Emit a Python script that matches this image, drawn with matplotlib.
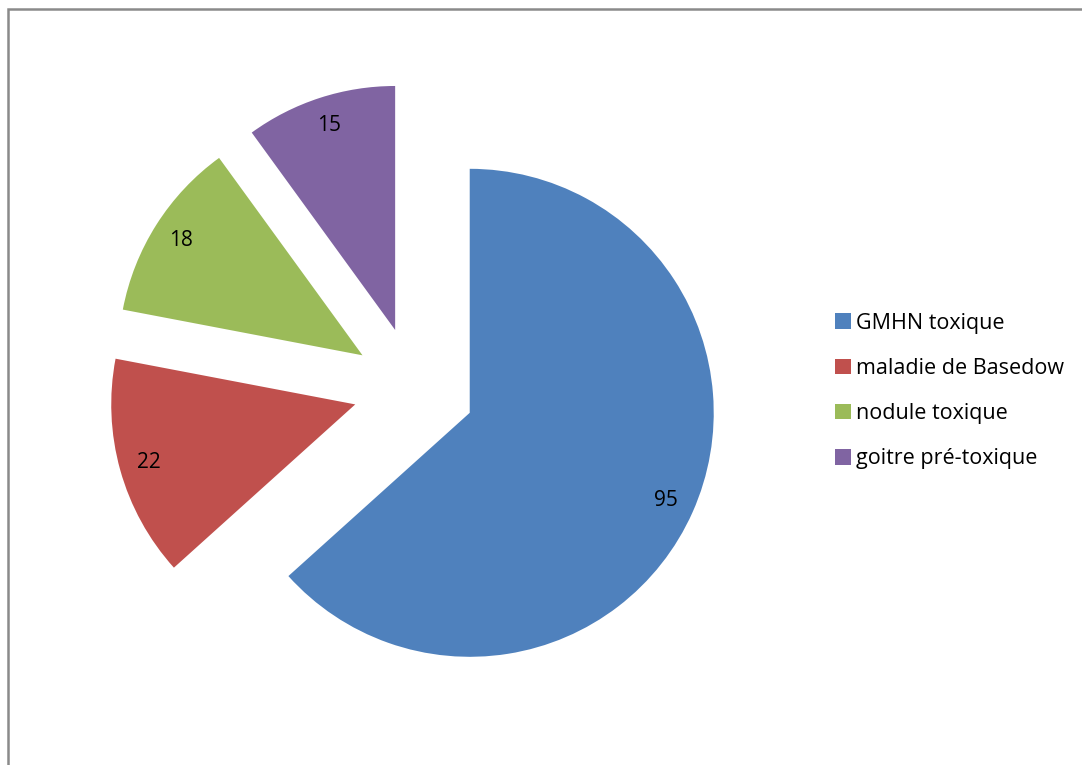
import matplotlib
matplotlib.use("Agg")
import matplotlib.pyplot as plt
from matplotlib.patches import Patch, Rectangle

plt.rcParams['font.family'] = ['Open Sans', 'DejaVu Sans']

labels = ['GMHN toxique', 'maladie de Basedow', 'nodule toxique', 'goitre pré-toxique']
values = [95, 22, 18, 15]
colors = ['#4F81BD', '#C0504D', '#9BBB59', '#8064A2']

W, H = 1082, 765
R = 244
fig = plt.figure(figsize=(W / 100, H / 100), dpi=100)
ax = fig.add_axes([0, 0, 1, 1])

# explode is in data units here (the axes is laid out in pixels)
wedges, texts, autotexts = ax.pie(
    values,
    colors=colors,
    startangle=90,
    counterclock=False,
    explode=[0.25 * R] * len(values),
    radius=R,
    center=(414, H - 388),
    autopct=lambda p: '%d' % round(p * sum(values) / 100),
    pctdistance=0.88,
    textprops=dict(fontsize=15, color='black'),
    wedgeprops=dict(linewidth=0),
)
ax.set_xlim(0, W)
ax.set_ylim(0, H)
ax.set_aspect('equal')
ax.axis('off')

# thin gray chart border (right and bottom edges fall outside the image)
fig.patches.append(Rectangle((7.5 / W, -0.05), 1.1, 1 - 9.5 / H + 0.05,
                             transform=fig.transFigure, fill=False,
                             edgecolor='#8a8a8a', linewidth=1.8))

handles = [Patch(facecolor=c, edgecolor='none') for c in colors]
fig.legend(handles, labels, loc='center left', bbox_to_anchor=(835 / W, 1 - 391 / H),
           frameon=False, fontsize=15.5, handlelength=0.72, handleheight=0.72,
           handletextpad=0.25, labelspacing=1.13, borderaxespad=0, borderpad=0)

fig.savefig('out.png', dpi=100)
